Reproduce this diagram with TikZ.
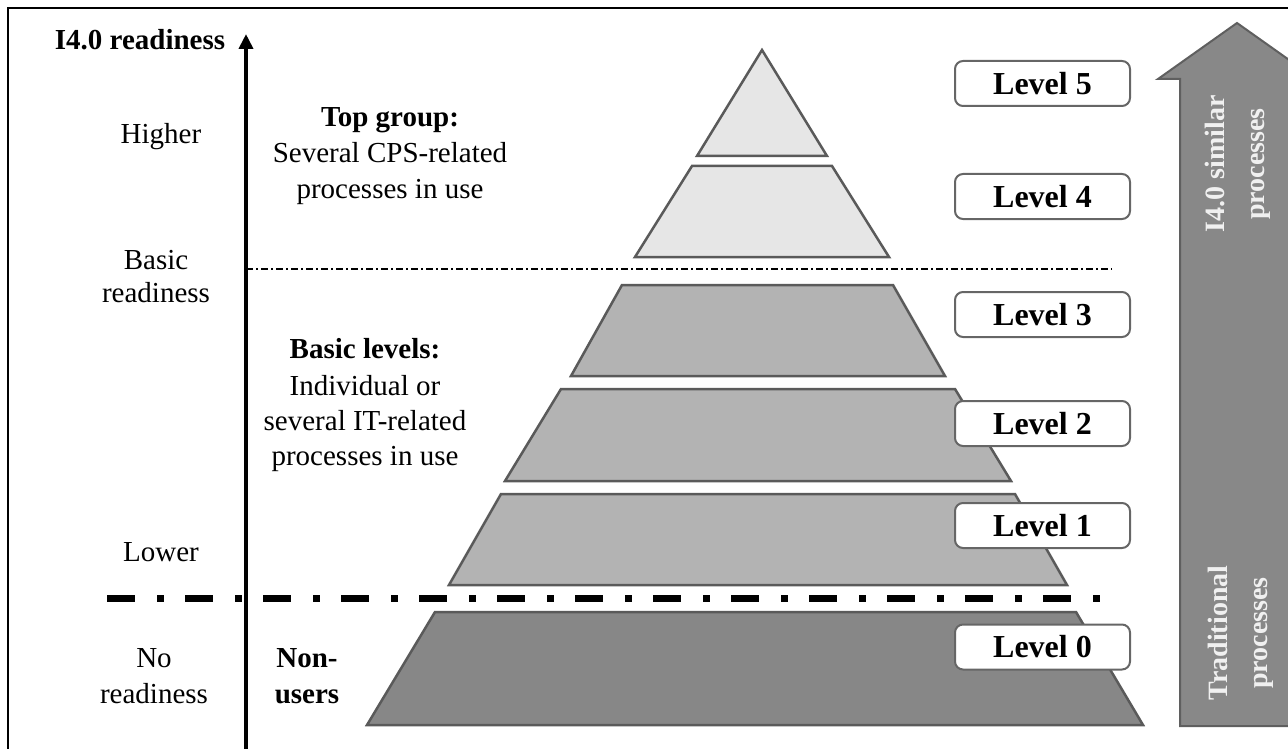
\documentclass[tikz,border=0pt]{standalone}
\usepackage{fontspec}
\setmainfont{Liberation Serif}
\usetikzlibrary{arrows.meta}
\definecolor{tierlight}{HTML}{E6E6E6}
\definecolor{tiermid}{HTML}{B3B3B3}
\definecolor{tierdark}{HTML}{878787}
\definecolor{tierline}{HTML}{5A5A5A}
\definecolor{bigarrow}{HTML}{888888}
\definecolor{bigarrowline}{HTML}{5F5F5F}
\definecolor{boxline}{HTML}{666666}
\tikzset{
  txt/.style={font=\fontsize{29}{34}\selectfont, anchor=base, inner sep=0pt},
  btxt/.style={font=\fontsize{29}{34}\selectfont\bfseries, anchor=base, inner sep=0pt},
  tier/.style={draw=tierline, line width=2.5pt, line join=miter},
  levelbox/.style={draw=boxline, line width=2pt, rounded corners=8pt, fill=white,
     minimum width=175pt, minimum height=45pt, inner sep=0pt,
     font=\fontsize{32}{36}\selectfont\bfseries},
  arrowtxt/.style={rotate=90, align=center, text=white!94!black, inner sep=0pt,
     font=\fontsize{28}{40}\selectfont\bfseries}
}
\begin{document}
\begin{tikzpicture}[x=1pt,y=-1pt]
\useasboundingbox (0,0) rectangle (1288,749);
\clip (0,0) rectangle (1288,749);
% frame
\draw[line width=2.5pt] (8,8) rectangle (1300,762);

% big arrow on the right
\draw[fill=bigarrow, draw=bigarrowline, line width=2pt, line join=miter]
  (1180,726) -- (1180,79) -- (1158,79) -- (1237,23) -- (1316,79) -- (1294,79) -- (1294,726) -- cycle;
\node[arrowtxt] (simtxt) at (1238,164) {I4.0 similar\\processes};
\node[arrowtxt] (tradtxt) at (1241,633) {Traditional\\processes};

% thin dash-dot line
\coordinate (thinA) at (246,269);
\coordinate (thinB) at (1112,269);
\draw[line width=1.8pt, dash pattern=on 7pt off 3pt on 2pt off 3pt] (thinA) -- (thinB);

% thick dash-dot line
\coordinate (thickA) at (107,598);
\coordinate (thickB) at (1103,598);
\draw[line width=7pt, dash pattern=on 28pt off 22pt on 7pt off 21pt] (thickA) -- (thickB);

% pyramid tiers
\filldraw[tier, fill=tierlight] (762,50) -- (827,156) -- (697,156) -- cycle;
\filldraw[tier, fill=tierlight] (692,166) -- (832,166) -- (889,257) -- (635,257) -- cycle;
\filldraw[tier, fill=tiermid] (622,285) -- (893,285) -- (945,376) -- (571,376) -- cycle;
\filldraw[tier, fill=tiermid] (561,389) -- (955,389) -- (1011,481) -- (505,481) -- cycle;
\filldraw[tier, fill=tiermid] (501,494) -- (1015,494) -- (1067,585) -- (449,585) -- cycle;
\filldraw[tier, fill=tierdark] (435,612) -- (1076,612) -- (1143,725) -- (367,725) -- cycle;

% level boxes
\node[levelbox] (L5) at (1042.5,83.5) {Level 5};
\node[levelbox] (L4) at (1042.5,196.5) {Level 4};
\node[levelbox] (L3) at (1042.5,314.5) {Level 3};
\node[levelbox] (L2) at (1042.5,423.5) {Level 2};
\node[levelbox] (L1) at (1042.5,525.5) {Level 1};
\node[levelbox] (L0) at (1042.5,647) {Level 0};

% vertical axis
\coordinate (axbot) at (246,760);
\coordinate (axtop) at (246,34);
\draw[line width=4.5pt, -{Triangle[length=15pt, width=14pt]}] (axbot) -- (axtop);

% left labels
\node[btxt] (axlabel) at (140,50) {I4.0 readiness};
\node[txt] (higher) at (161,143) {Higher};
\node[txt] (basicA) at (156,269) {Basic};
\node[txt] (basicB) at (156,302) {readiness};
\node[txt] (lower) at (161,561) {Lower};
\node[txt] (noA) at (154,667) {No};
\node[txt] (noB) at (154,703) {readiness};

% group texts
\node[btxt] (topA) at (390,127) {Top group:};
\node[txt] (topB) at (390,163) {Several CPS-related};
\node[txt] (topC) at (390,198) {processes in use};
\node[btxt] (basA) at (365,358) {Basic levels:};
\node[txt] (basB) at (365,395) {Individual or};
\node[txt] (basC) at (365,430) {several IT-related};
\node[txt] (basD) at (365,465) {processes in use};
\node[btxt] (nonA) at (307,667) {Non-};
\node[btxt] (nonB) at (307,703) {users};
\end{tikzpicture}
\end{document}
